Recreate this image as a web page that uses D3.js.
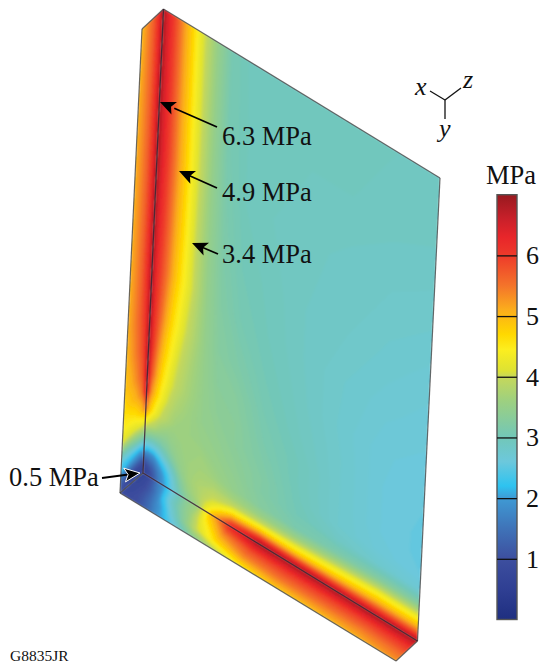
<!DOCTYPE html>
<html>
<head>
<meta charset="utf-8">
<style>
  html, body { margin: 0; padding: 0; background: #fff; }
  svg { display: block; }
  text { font-family: "Liberation Serif", serif; fill: #111; }
</style>
</head>
<body>
<div id="chart"></div>
<script src="https://cdn.jsdelivr.net/npm/d3@7"></script>
<script>
// stress readings in MPa
const uStops = [0, 0.015, 0.035, 0.055, 0.08, 0.105, 0.13, 0.16, 0.2, 0.25, 0.32, 0.42, 0.55, 0.7, 0.85, 1];
const vStops = [0, 0.15, 0.3, 0.45, 0.55, 0.65, 0.72, 0.78, 0.82, 0.86, 0.89, 0.92, 0.94, 0.955, 0.97, 0.98, 0.99, 1];
const sideStops = [0, 0.3, 0.55, 0.8, 1];
const lipStops = [0, 0.35, 0.7, 1];

const frontFace = [
  [6.9, 6.5, 6.1, 5.7, 5.2, 4.8, 4.35, 3.95, 3.5, 3.1, 2.98, 2.95, 2.95, 2.95, 2.95, 2.95],
  [6.9, 6.5, 6.1, 5.7, 5.2, 4.8, 4.35, 3.95, 3.5, 3.1, 3.0, 2.95, 2.95, 2.95, 2.92, 2.9],
  [6.9, 6.5, 6.1, 5.7, 5.2, 4.8, 4.35, 3.95, 3.5, 3.15, 3.0, 2.95, 2.92, 2.88, 2.85, 2.82],
  [6.9, 6.4, 6.0, 5.6, 5.1, 4.7, 4.3, 3.9, 3.5, 3.2, 3.05, 2.98, 2.9, 2.85, 2.78, 2.72],
  [6.9, 6.3, 5.9, 5.5, 5.0, 4.6, 4.25, 3.9, 3.5, 3.25, 3.1, 3.0, 2.9, 2.8, 2.72, 2.67],
  [6.9, 6.2, 5.7, 5.2, 4.7, 4.35, 4.05, 3.8, 3.5, 3.3, 3.2, 3.05, 2.92, 2.78, 2.66, 2.62],
  [6.9, 6.1, 5.4, 4.9, 4.45, 4.1, 3.9, 3.7, 3.5, 3.35, 3.3, 3.1, 2.95, 2.8, 2.65, 2.6],
  [6.8, 5.8, 5.1, 4.6, 4.2, 3.95, 3.8, 3.65, 3.5, 3.4, 3.35, 3.15, 3.0, 2.8, 2.65, 2.58],
  [6.6, 5.4, 4.8, 4.35, 4.0, 3.8, 3.7, 3.6, 3.5, 3.45, 3.35, 3.2, 3.0, 2.8, 2.65, 2.58],
  [5.5, 4.8, 4.3, 4.0, 3.8, 3.65, 3.6, 3.6, 3.55, 3.5, 3.4, 3.25, 3.02, 2.8, 2.68, 2.6],
  [4.3, 4.0, 3.8, 3.6, 3.5, 3.55, 3.6, 3.65, 3.65, 3.55, 3.45, 3.25, 3.05, 2.9, 2.8, 2.72],
  [3.3, 3.1, 3.05, 3.1, 3.25, 3.45, 3.55, 3.65, 3.7, 3.65, 3.5, 3.3, 3.15, 3.2, 3.3, 3.3],
  [2.5, 2.4, 2.4, 2.6, 2.95, 3.25, 3.5, 3.65, 3.75, 3.8, 3.7, 3.6, 3.6, 3.8, 4.0, 4.0],
  [1.9, 1.75, 1.85, 2.2, 2.6, 3.0, 3.4, 3.65, 3.8, 3.95, 4.0, 4.05, 4.15, 4.35, 4.55, 4.55],
  [1.2, 1.3, 1.5, 1.9, 2.3, 2.8, 3.25, 3.6, 3.8, 4.1, 4.6, 4.85, 4.8, 4.95, 5.1, 5.1],
  [0.9, 1.0, 1.3, 1.75, 2.2, 2.7, 3.2, 3.55, 3.8, 4.3, 5.2, 5.5, 5.4, 5.5, 5.6, 5.6],
  [0.7, 0.85, 1.2, 1.7, 2.15, 2.65, 3.1, 3.45, 3.75, 4.6, 5.8, 6.3, 6.2, 6.2, 6.2, 6.2],
  [0.5, 0.8, 1.15, 1.65, 2.1, 2.6, 3.0, 3.4, 3.7, 5.0, 6.3, 6.9, 6.9, 6.9, 6.9, 6.9]
];

const sideFace = [
  [5.0, 5.4, 5.7, 6.2, 6.9],
  [5.1, 5.4, 5.7, 6.2, 6.9],
  [5.1, 5.4, 5.7, 6.2, 6.9],
  [5.1, 5.4, 5.7, 6.2, 6.9],
  [5.1, 5.4, 5.7, 6.2, 6.9],
  [5.1, 5.4, 5.7, 6.1, 6.9],
  [5.0, 5.3, 5.6, 6.0, 6.9],
  [4.9, 5.1, 5.4, 5.8, 6.8],
  [4.7, 4.9, 5.1, 5.5, 6.6],
  [4.5, 4.5, 4.6, 4.9, 5.5],
  [4.2, 4.1, 4.1, 4.2, 4.3],
  [3.0, 3.0, 3.1, 3.2, 3.3],
  [2.4, 2.35, 2.3, 2.3, 2.5],
  [2.2, 2.0, 1.9, 1.8, 1.9],
  [1.6, 1.4, 1.25, 1.2, 1.2],
  [1.3, 1.1, 0.95, 0.9, 0.9],
  [1.15, 0.95, 0.8, 0.75, 0.7],
  [1.05, 0.85, 0.7, 0.6, 0.5]
];

const lipFace = [
  [0.5, 0.8, 1.15, 1.65, 2.1, 2.6, 3.0, 3.4, 3.7, 5.0, 6.3, 6.9, 6.9, 6.9, 6.9, 6.9],
  [0.75, 0.8, 0.95, 1.2, 1.7, 2.3, 2.8, 3.2, 3.6, 4.4, 5.4, 5.9, 6.0, 6.0, 6.0, 6.1],
  [0.85, 0.85, 0.95, 1.1, 1.4, 1.8, 2.15, 2.7, 3.3, 4.0, 4.7, 5.3, 5.45, 5.45, 5.45, 5.6],
  [1.0, 0.95, 0.95, 1.0, 1.2, 1.5, 1.9, 2.2, 2.7, 3.3, 3.8, 4.5, 4.9, 5.0, 5.1, 5.3]
];

// colour bar
const colorValues = [0, 0.5, 1, 1.5, 2, 2.2, 2.6, 3, 3.6, 4, 4.1, 4.45, 4.7, 5, 5.1, 5.5, 6, 6.3, 6.6, 7];
const colorHex = ["#1f2f80", "#2f3f93", "#3d4f9f", "#3f73b8", "#3f9ad4", "#2ec3f0", "#6cc8dc", "#72c7b8", "#9dd080", "#c6d85a", "#dde233", "#fcee1f", "#ffd800", "#fdb813", "#fbae1c", "#f4742a", "#ee3a2a", "#e8262a", "#c9202a", "#98191f"];
const barTicks = [1, 2, 3, 4, 5, 6];

const annotations = ["6.3 MPa", "4.9 MPa", "3.4 MPa", "0.5 MPa"];
const axisNames = ["x", "z", "y"];

const width = 542,
  height = 666;

const svg = d3
  .select("#chart")
  .append("svg")
  .attr("width", width)
  .attr("height", height);

const defs = svg.append("defs");

const color = d3.scaleLinear().domain(colorValues).range(colorHex).clamp(true);

defs
  .append("filter")
  .attr("id", "soft")
  .attr("x", "-5%")
  .attr("y", "-5%")
  .attr("width", "110%")
  .attr("height", "110%")
  .append("feGaussianBlur")
  .attr("stdDeviation", 0.9);

// plate corners on the page
const apex = [163.5, 9],
  backLeft = [142, 29],
  topRight = [440, 178],
  botRight = [417.5, 641],
  corner = [143, 473],
  frontLeft = [120, 493],
  tip = [396, 661];

function drawFace(id, quad, grid, xStops, yStops) {
  const ny = grid.length,
    nx = grid[0].length;
  const xs = d3.scaleLinear().domain(d3.range(nx)).range(xStops).clamp(true);
  const ys = d3.scaleLinear().domain(d3.range(ny)).range(yStops).clamp(true);
  // quad is top-left, top-right, bottom-right, bottom-left
  const place = function (x, y) {
    const u = xs(x - 0.5),
      v = ys(y - 0.5);
    return [0, 1].map(function (k) {
      return (
        (1 - v) * ((1 - u) * quad[0][k] + u * quad[1][k]) +
        v * ((1 - u) * quad[3][k] + u * quad[2][k])
      );
    });
  };
  const path = d3.geoPath(
    d3.geoTransform({
      point: function (x, y) {
        const p = place(x, y);
        this.stream.point(p[0], p[1]);
      }
    })
  );
  const contours = d3
    .contours()
    .size([nx, ny])
    .thresholds(d3.range(0, 7, 0.05))(grid.flat());

  defs
    .append("clipPath")
    .attr("id", id)
    .append("polygon")
    .attr("points", quad.join(" "));

  svg
    .append("g")
    .attr("clip-path", "url(#" + id + ")")
    .append("g")
    .attr("filter", "url(#soft)")
    .selectAll("path")
    .data(contours)
    .enter()
    .append("path")
    .attr("d", path)
    .attr("fill", function (d) {
      return color(d.value);
    });
}

drawFace("side", [backLeft, apex, corner, frontLeft], sideFace, sideStops, vStops);
drawFace("lip", [corner, botRight, tip, frontLeft], lipFace, uStops, lipStops);
drawFace("front", [apex, topRight, botRight, corner], frontFace, uStops, vStops);

// plate outline and the two folds
const edges = [
  [backLeft, apex],
  [apex, topRight],
  [topRight, botRight],
  [botRight, tip],
  [tip, frontLeft],
  [frontLeft, backLeft],
  [frontLeft, corner]
];
svg
  .append("g")
  .selectAll("line")
  .data(edges)
  .enter()
  .append("line")
  .attr("x1", (d) => d[0][0])
  .attr("y1", (d) => d[0][1])
  .attr("x2", (d) => d[1][0])
  .attr("y2", (d) => d[1][1])
  .attr("stroke", "#3a3a3a")
  .attr("stroke-opacity", 0.75)
  .attr("stroke-width", 1.2);

svg
  .append("path")
  .attr("d", d3.line()([apex, corner, botRight]))
  .attr("fill", "none")
  .attr("stroke", "#2a1020")
  .attr("stroke-opacity", 0.8)
  .attr("stroke-width", 1.3);

// colour bar
const barY = d3.scaleLinear().domain([0, 7]).range([619.5, 194.7]);
const barLeft = 497,
  barW = 20;

const grad = defs
  .append("linearGradient")
  .attr("id", "bar")
  .attr("x1", 0)
  .attr("y1", 1)
  .attr("x2", 0)
  .attr("y2", 0);
grad
  .selectAll("stop")
  .data(colorValues)
  .enter()
  .append("stop")
  .attr("offset", (d) => d / 7)
  .attr("stop-color", (d) => color(d));

svg
  .append("rect")
  .attr("x", barLeft)
  .attr("y", barY(7))
  .attr("width", barW)
  .attr("height", barY(0) - barY(7))
  .attr("fill", "url(#bar)")
  .attr("stroke", "#555")
  .attr("stroke-width", 1.4);

const barAxis = svg
  .append("g")
  .attr("transform", "translate(" + (barLeft + barW) + ",0)")
  .call(
    d3
      .axisRight(barY)
      .tickValues(barTicks)
      .tickFormat(d3.format("d"))
      .tickSize(-barW)
      .tickSizeOuter(0)
      .tickPadding(9)
  );
barAxis.select(".domain").remove();
barAxis.selectAll("line").attr("stroke", "#111").attr("stroke-width", 1.3);
barAxis
  .selectAll("text")
  .style("font-family", '"Liberation Serif", serif')
  .style("font-size", "26px")
  .attr("fill", "#111");

svg
  .append("text")
  .attr("x", 511)
  .attr("y", 184)
  .attr("text-anchor", "middle")
  .style("font-size", "26.5px")
  .text("MPa");

// value callouts
const calloutX = [222, 222, 222, 9];
const calloutY = [145, 201, 263, 486];
const arrowTail = [[217, 127], [217, 188], [218, 254], [102, 478]];
const arrowTip = [[160, 102], [179, 171], [192, 243], [140, 473]];

function arrowHead(tail, head) {
  const a = Math.atan2(head[1] - tail[1], head[0] - tail[0]);
  const at = function (r, da) {
    return [head[0] - r * Math.cos(a + da), head[1] - r * Math.sin(a + da)];
  };
  return [head, at(17, 0.42), at(12, 0), at(17, -0.42)];
}

annotations.forEach(function (label, i) {
  svg
    .append("text")
    .attr("x", calloutX[i])
    .attr("y", calloutY[i])
    .style("font-size", "26.5px")
    .text(label);
  svg
    .append("line")
    .attr("x1", arrowTail[i][0])
    .attr("y1", arrowTail[i][1])
    .attr("x2", (arrowTail[i][0] + arrowTip[i][0] * 3) / 4)
    .attr("y2", (arrowTail[i][1] + arrowTip[i][1] * 3) / 4)
    .attr("stroke", "#000")
    .attr("stroke-width", 1.8);
  svg
    .append("polygon")
    .attr("points", arrowHead(arrowTail[i], arrowTip[i]).join(" "))
    .attr("fill", "#000")
    .attr("stroke", i === 3 ? "#fff" : "none")
    .attr("stroke-width", 1);
});

// axis triad
const triadCenter = [445, 100];
const triadEnds = [[430, 91], [461, 88], [445, 119]];
const triadLabelX = [415, 463, 439];
const triadLabelY = [95, 88, 137];

svg
  .append("g")
  .selectAll("line")
  .data(triadEnds)
  .enter()
  .append("line")
  .attr("x1", triadCenter[0])
  .attr("y1", triadCenter[1])
  .attr("x2", (d) => d[0])
  .attr("y2", (d) => d[1])
  .attr("stroke", "#111")
  .attr("stroke-width", 1.3);

axisNames.forEach(function (name, i) {
  svg
    .append("text")
    .attr("x", triadLabelX[i])
    .attr("y", triadLabelY[i])
    .style("font-size", "26px")
    .style("font-style", "italic")
    .text(name);
});

svg
  .append("text")
  .attr("x", 10)
  .attr("y", 661)
  .style("font-size", "15.5px")
  .text("G8835JR");
</script>
</body>
</html>
